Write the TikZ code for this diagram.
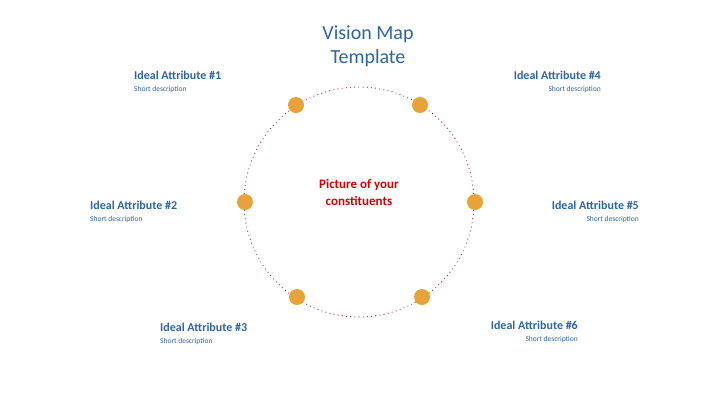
\documentclass[tikz,border=0pt]{standalone}
\usepackage{fontspec}
\setmainfont{Carlito}
\definecolor{titleblue}{HTML}{2E64A8}
\definecolor{dotorange}{HTML}{E8A23A}
\definecolor{ringred}{HTML}{A0203A}
\begin{document}
\begin{tikzpicture}[x=1pt,y=-1pt,
  attr/.style={font=\bfseries\fontsize{12}{13}\selectfont,text=titleblue,inner sep=0pt},
  desc/.style={font=\fontsize{7.5}{8}\selectfont,text=titleblue,inner sep=0pt},
  dot/.style={circle,fill=dotorange,minimum size=16pt,inner sep=0pt}]
            \useasboundingbox (0,0) rectangle (720,405);
            \draw[ringred,line width=1.2pt,dash pattern=on 0pt off 4.2pt,line cap=round] (359,202) circle (115);
            \node[font=\fontsize{20}{24}\selectfont,text=titleblue,align=center] (title) at (368,46) {Vision Map\\Template};
            \node[font=\bfseries\fontsize{13}{17}\selectfont,text=red!85!black,align=center] (centre) at (359,192) {Picture of your\\constituents};

            \node[dot] (d1) at (296,105) {};
            \node[dot] (d4) at (420,105) {};
            \node[dot] (d2) at (245,202) {};
            \node[dot] (d5) at (475,202) {};
            \node[dot] (d3) at (297,297) {};
            \node[dot] (d6) at (422,297) {};

            \node[attr,anchor=west] (a1) at (134,75) {Ideal Attribute \#1};
            \node[desc,anchor=west] (s1) at (134,89) {Short description};
            \node[attr,anchor=east] (a4) at (601,75) {Ideal Attribute \#4};
            \node[desc,anchor=east] (s4) at (601,89) {Short description};
            \node[attr,anchor=west] (a2) at (90,205) {Ideal Attribute \#2};
            \node[desc,anchor=west] (s2) at (90,219) {Short description};
            \node[attr,anchor=east] (a5) at (639,205) {Ideal Attribute \#5};
            \node[desc,anchor=east] (s5) at (639,219) {Short description};
            \node[attr,anchor=west] (a3) at (160,327) {Ideal Attribute \#3};
            \node[desc,anchor=west] (s3) at (160,341) {Short description};
            \node[attr,anchor=east] (a6) at (578,325) {Ideal Attribute \#6};
            \node[desc,anchor=east] (s6) at (578,339) {Short description};
\end{tikzpicture}
\end{document}
